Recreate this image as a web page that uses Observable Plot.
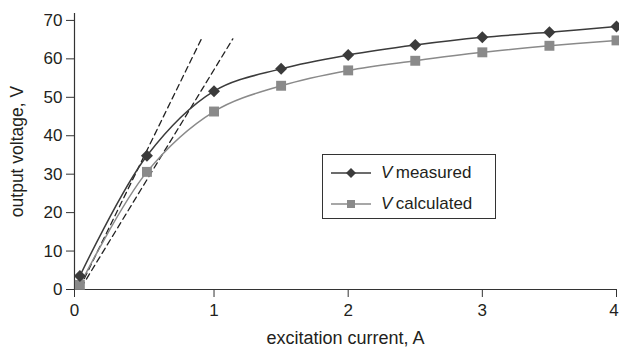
<!DOCTYPE html>
<html>
<head>
<meta charset="utf-8">
<script src="https://cdn.jsdelivr.net/npm/d3@7"></script>
<script src="https://cdn.jsdelivr.net/npm/@observablehq/plot@0.6"></script>
<style>
  html, body { margin: 0; padding: 0; background: #fff; }
  #wrap { position: relative; width: 619px; height: 354px; font-family: "Liberation Sans", Arial, sans-serif; }
  #legend { position: absolute; left: 322px; top: 154px; width: 174px; height: 65px; border: 1px solid #333; background: #fff; box-sizing: border-box; }
  .row { position: absolute; left: 0; height: 20px; display: flex; align-items: center; font-size: 17px; color: #231f20; }
  .row svg { margin-left: 8px; margin-right: 10px; }
</style>
</head>
<body>
<div id="wrap"></div>
<script>
// Data
const current = [0, 0.5, 1, 1.5, 2, 2.5, 3, 3.5, 4];
const vMeasured = [3.5, 34.8, 51.6, 57.4, 61.0, 63.6, 65.6, 66.9, 68.4];
const vCalculated = [1.2, 30.6, 46.3, 53.0, 57.0, 59.5, 61.7, 63.4, 64.8];
// Two dashed tangent lines (start and end points)
const tangentA = [{x: 0.0, y: 0.5}, {x: 0.906, y: 65.2}];
const tangentB = [{x: 0.01, y: 0.5}, {x: 1.14, y: 65.2}];
const xTicks = [0, 1, 2, 3, 4];
const yTicks = [0, 10, 20, 30, 40, 50, 60, 70];
const seriesNames = ["measured", "calculated"];
const xLabel = "excitation current, A";
const yLabel = "output voltage, V";

// the drawn axis origin sits slightly left of x = 0, as in the reference
const xDomain = [-0.04, 4];
const yDomain = [0, 71.8];
const xTickPos = xTicks.map(t => t === 0 ? xDomain[0] : t);
const fmt = d => String(Math.max(0, Math.round(d)));

const measured = current.map((x, i) => ({x, y: vMeasured[i]}));
const calculated = current.map((x, i) => ({x, y: vCalculated[i]}));

const dark = "#3b3b3b", light = "#8a8a8a", ink = "#231f20";

const chart = Plot.plot({
  width: 619,
  height: 354,
  marginLeft: 74,
  marginRight: 3,
  marginTop: 13,
  marginBottom: 65,
  style: {fontFamily: "'Liberation Sans', Arial, sans-serif", fontSize: "17px", color: ink, background: "#fff"},
  x: {domain: xDomain},
  y: {domain: yDomain},
  marks: [
    Plot.axisY({ticks: yTicks, tickSize: 8, tickPadding: 4, fontSize: 17, label: null, stroke: "#333", fill: ink}),
    Plot.axisX({ticks: xTickPos, tickSize: 8, tickFormat: () => "", label: null, stroke: "#333"}),
    Plot.axisX({ticks: xTickPos.slice(0, -1), tickSize: 0, tickPadding: 14, fontSize: 17, tickFormat: fmt, label: null, fill: ink}),
    Plot.axisX({ticks: xTickPos.slice(-1), tickSize: 0, tickPadding: 14, fontSize: 17, tickFormat: fmt, label: null, fill: ink, dx: -2.5}),
    Plot.text([yLabel], {text: d => d, frameAnchor: "left", dx: -57.5, rotate: -90, fontSize: 17.5, fill: ink, textAnchor: "middle", lineAnchor: "middle"}),
    Plot.text([xLabel], {text: d => d, frameAnchor: "bottom", dy: 49, fontSize: 18, fill: ink, textAnchor: "middle", lineAnchor: "middle"}),
    Plot.ruleX([xDomain[0]], {stroke: "#333", strokeWidth: 1.2}),
    Plot.ruleY([0], {stroke: "#333", strokeWidth: 1.2}),
    Plot.line(tangentA, {x: "x", y: "y", stroke: "#222", strokeWidth: 1.3, strokeDasharray: "6,4"}),
    Plot.line(tangentB, {x: "x", y: "y", stroke: "#222", strokeWidth: 1.3, strokeDasharray: "6,4"}),
    Plot.line(calculated, {x: "x", y: "y", stroke: light, strokeWidth: 1.5, curve: "catmull-rom"}),
    Plot.line(measured, {x: "x", y: "y", stroke: dark, strokeWidth: 1.5, curve: "catmull-rom"}),
    Plot.dot(calculated, {x: "x", y: "y", symbol: "square", r: 5.6, fill: light, stroke: "none"}),
    Plot.dot(measured, {x: "x", y: "y", symbol: "diamond2", r: 5.4, fill: dark, stroke: "none"})
  ]
});

const wrap = document.getElementById("wrap");
wrap.appendChild(chart);

// Legend
const legend = document.createElement("div");
legend.id = "legend";
const rows = [
  {name: seriesNames[0], color: dark, sym: "diamond", top: 8},
  {name: seriesNames[1], color: light, sym: "square", top: 39}
];
for (const r of rows) {
  const row = document.createElement("div");
  row.className = "row";
  row.style.top = r.top + "px";
  const marker = r.sym === "diamond"
    ? `<path d="M20,5 L25,10 L20,15 L15,10 Z" fill="${r.color}"/>`
    : `<rect x="16" y="6" width="8" height="8" fill="${r.color}"/>`;
  row.innerHTML = `<svg width="40" height="20"><line x1="0" y1="10" x2="40" y2="10" stroke="${r.color}" stroke-width="1.5"/>${marker}</svg><span><i>V</i>&#8201;${r.name}</span>`;
  legend.appendChild(row);
}
wrap.appendChild(legend);
</script>
</body>
</html>
